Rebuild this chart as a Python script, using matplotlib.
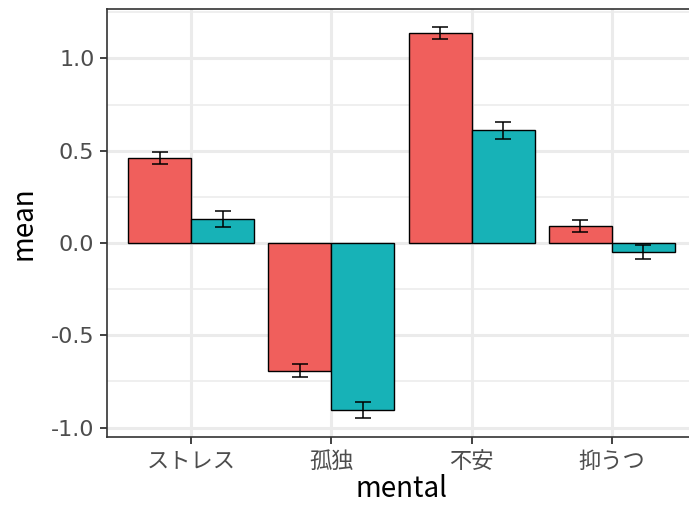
import numpy as np
import matplotlib
matplotlib.use("Agg")
import matplotlib.pyplot as plt
from matplotlib.ticker import MultipleLocator, FuncFormatter

plt.rcParams['font.family'] = ['Noto Sans CJK JP', 'DejaVu Sans']

# data
mental = ["ストレス", "孤独", "不安", "抑うつ"]
mean_a = [0.46, -0.693, 1.137, 0.092]
se_a = [0.033, 0.035, 0.033, 0.033]
mean_b = [0.13, -0.905, 0.612, -0.049]
se_b = [0.045, 0.043, 0.046, 0.040]

red = "#F05F5C"
teal = "#17B2B7"

fig = plt.figure(figsize=(6.89, 5.11), dpi=100)
# panel runs slightly past the right edge of the figure
ax = fig.add_axes([107/689, 1 - 437/511, (696 - 107)/689, (437 - 9)/511])

x = np.arange(1, len(mental) + 1)
w = 0.45
ax.bar(x - w/2, mean_a, width=w, color=red, edgecolor="black", linewidth=1, zorder=3)
ax.bar(x + w/2, mean_b, width=w, color=teal, edgecolor="black", linewidth=1, zorder=3)
ax.errorbar(x - w/2, mean_a, yerr=se_a, fmt="none", ecolor="black", elinewidth=1.1,
            capsize=6, capthick=1.1, zorder=4)
ax.errorbar(x + w/2, mean_b, yerr=se_b, fmt="none", ecolor="black", elinewidth=1.1,
            capsize=6, capthick=1.1, zorder=4)

ax.set_xlim(0.4, 4.6)
ax.set_ylim(-1.051, 1.268)
ax.yaxis.set_major_locator(MultipleLocator(0.5))
ax.yaxis.set_minor_locator(MultipleLocator(0.25))
ax.yaxis.set_major_formatter(FuncFormatter(lambda v, p: f"{v:.1f}"))
ax.set_xticks(x)
ax.set_xticklabels(mental)

ax.grid(which="major", color="#EBEBEB", linewidth=2.2, zorder=0)
ax.grid(which="minor", axis="y", color="#EBEBEB", linewidth=1.1, zorder=0)
ax.set_axisbelow(True)
for s in ax.spines.values():
    s.set_color("#333333")
    s.set_linewidth(1.2)

ax.tick_params(which="major", length=5, width=1.3, color="#333333",
               labelsize=16, labelcolor="#4D4D4D", pad=4)
ax.tick_params(which="minor", length=0)
# wider digits for the y tick numbers
for lab in ax.get_yticklabels():
    lab.set_family(["DejaVu Sans"])
    lab.set_fontsize(16)

ax.set_xlabel("mental", fontsize=20, labelpad=1)
ax.set_ylabel("mean", fontsize=20, labelpad=9)

fig.savefig("out.png", dpi=100)
